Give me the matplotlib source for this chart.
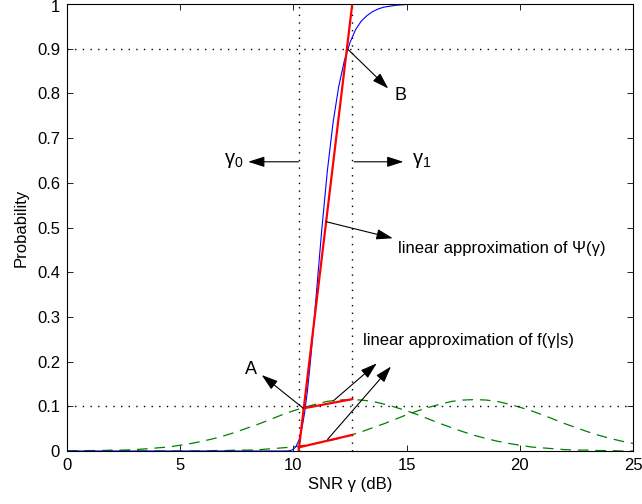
import matplotlib
matplotlib.use("Agg")
import matplotlib.pyplot as plt
import matplotlib.transforms as mtransforms

plt.rcParams["font.family"] = ["Liberation Sans", "DejaVu Sans"]
plt.rcParams["mathtext.fontset"] = "custom"
plt.rcParams["mathtext.rm"] = "Liberation Sans"
plt.rcParams["mathtext.it"] = "Liberation Sans"

# ---- data -------------------------------------------------------------
snr_grid = [0.0, 0.5, 1.0, 1.5, 2.0, 2.5, 3.0, 3.5, 4.0, 4.5,
            5.0, 5.5, 6.0, 6.5, 7.0, 7.5, 8.0, 8.5, 9.0, 9.5,
            10.0, 10.5, 11.0, 11.5, 12.0, 12.5, 13.0, 13.5, 14.0, 14.5,
            15.0, 15.5, 16.0, 16.5, 17.0, 17.5, 18.0, 18.5, 19.0, 19.5,
            20.0, 20.5, 21.0, 21.5, 22.0, 22.5, 23.0, 23.5, 24.0, 24.5,
            25.0]

# SNR densities f(gamma|s) for the two hypotheses
pdf_low = [0.000, 0.000, 0.001, 0.001, 0.002, 0.002, 0.003, 0.005, 0.007, 0.009,
           0.013, 0.017, 0.022, 0.028, 0.035, 0.043, 0.052, 0.061, 0.071, 0.081,
           0.090, 0.098, 0.105, 0.111, 0.114, 0.115, 0.114, 0.111, 0.105, 0.098,
           0.090, 0.081, 0.071, 0.061, 0.052, 0.043, 0.035, 0.028, 0.022, 0.017,
           0.013, 0.009, 0.007, 0.005, 0.003, 0.002, 0.002, 0.001, 0.001, 0.000,
           0.000]
pdf_high = [0.000, 0.000, 0.000, 0.000, 0.000, 0.000, 0.000, 0.000, 0.000, 0.000,
            0.000, 0.000, 0.000, 0.001, 0.001, 0.002, 0.002, 0.003, 0.005, 0.007,
            0.009, 0.013, 0.017, 0.022, 0.028, 0.035, 0.043, 0.052, 0.061, 0.071,
            0.081, 0.090, 0.098, 0.105, 0.111, 0.114, 0.115, 0.114, 0.111, 0.105,
            0.098, 0.090, 0.081, 0.071, 0.061, 0.052, 0.043, 0.035, 0.028, 0.022,
            0.017]

# success probability Psi(gamma)
psi_snr = [0.0, 9.0, 9.25, 9.5, 9.75, 9.875, 10.0, 10.125, 10.25, 10.375, 10.5,
           10.625, 10.75, 10.875, 11.0, 11.25, 11.5, 11.75, 12.0, 12.25, 12.5,
           12.75, 13.0, 13.25, 13.5, 13.75, 14.0, 14.5, 15.0, 16.0, 25.0]
psi_val = [0.0, 0.0, 0.0, 0.0, 0.0002, 0.001, 0.004, 0.011, 0.025, 0.050, 0.087,
           0.137, 0.199, 0.269, 0.344, 0.493, 0.627, 0.734, 0.815, 0.873, 0.914,
           0.943, 0.962, 0.974, 0.983, 0.989, 0.993, 0.997, 0.999, 1.0, 1.0]

# thresholds
gamma0 = 10.23
gamma1 = 12.6

# linear approximations
psi_lin_x = [gamma0, gamma1]
psi_lin_y = [0.0, 1.0]
pdf_low_lin_x = [10.45, gamma1]
pdf_low_lin_y = [0.0955, 0.116]
pdf_high_lin_x = [gamma0, gamma1]
pdf_high_lin_y = [0.008, 0.036]

x_ticks = [0, 5, 10, 15, 20, 25]
x_tick_labels = ["0", "5", "10", "15", "20", "25"]
y_ticks = [0, 0.1, 0.2, 0.3, 0.4, 0.5, 0.6, 0.7, 0.8, 0.9, 1.0]
y_tick_labels = ["0", "0.1", "0.2", "0.3", "0.4", "0.5", "0.6", "0.7", "0.8", "0.9", "1"]

# ---- figure -----------------------------------------------------------
fig = plt.figure(figsize=(6.42, 5.04), dpi=100)
ax = fig.add_axes([67 / 642, 53 / 504, 566 / 642, 447 / 504])

green = (0.0, 0.5, 0.0)
ax.plot(snr_grid, pdf_low, color=green, lw=0.9, dashes=(8.5, 5.5))
ax.plot(snr_grid, pdf_high, color=green, lw=0.9, dashes=(8.5, 5.5))

dot = dict(color="k", lw=1.0, dashes=(1.0, 4.5))
ax.plot([gamma0, gamma0], [0, 1], **dot)
ax.plot([gamma1, gamma1], [0, 1], **dot)
ax.plot([0, 25], [0.9, 0.9], **dot)
ax.plot([0, 25], [0.1, 0.1], **dot)

ax.plot(psi_snr, psi_val, color="#0000ff", lw=0.8)
ax.plot(psi_lin_x, psi_lin_y, color="#ff0000", lw=1.6)
ax.plot(pdf_low_lin_x, pdf_low_lin_y, color="#ff0000", lw=1.6)
ax.plot(pdf_high_lin_x, pdf_high_lin_y, color="#ff0000", lw=1.6)

arrow = dict(arrowstyle="-|>,head_length=1.0,head_width=0.32", color="k",
             lw=0.8, mutation_scale=10, shrinkA=0, shrinkB=0)


def pointer(tail, head):
    ax.annotate("", xy=head, xytext=tail, arrowprops=arrow)


pointer((gamma0, 0.647), (8.0, 0.647))
pointer((12.68, 0.647), (14.86, 0.647))
pointer((11.44, 0.513), (14.39, 0.476))
pointer((12.40, 0.899), (14.19, 0.811))
pointer((10.44, 0.0955), (8.6, 0.17))
pointer((11.76, 0.112), (13.68, 0.196))
pointer((11.51, 0.026), (14.31, 0.189))

fs = 12
ax.text(6.95, 0.651, r"$\mathregular{\gamma_0}$", fontsize=14.5, ha="left", va="center")
ax.text(15.25, 0.651, r"$\mathregular{\gamma_1}$", fontsize=14.5, ha="left", va="center")
ax.text(14.62, 0.454, "linear approximation of Ψ(γ)", fontsize=fs, ha="left", va="center")
ax.text(13.07, 0.248, "linear approximation of f(γ|s)", fontsize=fs, ha="left", va="center")
ax.text(8.13, 0.183, "A", fontsize=13, ha="center", va="center")
ax.text(14.73, 0.796, "B", fontsize=13, ha="center", va="center")

ax.set_xlim(0, 25)
ax.set_ylim(0, 1)
ax.set_xticks(x_ticks)
ax.set_xticklabels(x_tick_labels)
ax.set_yticks(y_ticks)
ax.set_yticklabels(y_tick_labels)
ax.tick_params(direction="in", top=True, right=True, length=4, width=0.6,
               labelsize=fs, pad=5)
for s in ax.spines.values():
    s.set_linewidth(0.8)

# keep the topmost y label inside the canvas
top_label = ax.get_yticklabels()[-1]
top_label.set_transform(top_label.get_transform() +
                        mtransforms.ScaledTranslation(0, -2 / 100, fig.dpi_scale_trans))

ax.set_xlabel("SNR γ (dB)", fontsize=fs, labelpad=3)
ax.set_ylabel("Probability", fontsize=fs, labelpad=6)

fig.savefig("out.png", dpi=100)
